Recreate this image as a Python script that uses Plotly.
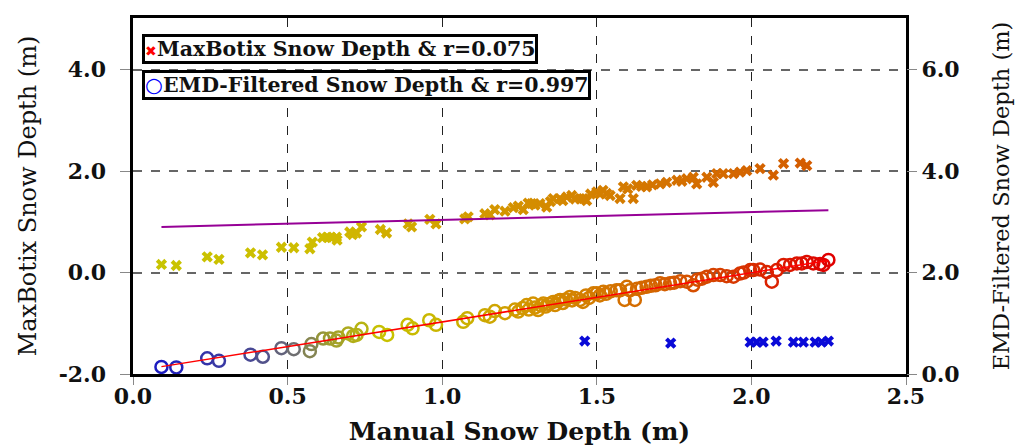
import plotly.graph_objects as go

# ---- data ----
emd_x = [0.092, 0.14, 0.24, 0.278, 0.38, 0.42, 0.48, 0.52, 0.572, 0.577, 0.615, 0.637, 0.658, 0.664,
         0.696, 0.712, 0.739, 0.723, 0.796, 0.822, 0.888, 0.904, 0.958, 0.98, 1.068, 1.081, 1.138,
         1.154, 1.17, 1.203, 1.235, 1.246, 1.26, 1.273, 1.28, 1.294, 1.30, 1.31, 1.32, 1.327, 1.335,
         1.345, 1.359, 1.365, 1.375, 1.381, 1.39, 1.40, 1.413, 1.42, 1.43, 1.446, 1.455, 1.465, 1.475,
         1.489, 1.50, 1.51, 1.521, 1.53, 1.545, 1.564, 1.575, 1.59, 1.597, 1.607, 1.623, 1.63, 1.645,
         1.661, 1.675, 1.69, 1.705, 1.72, 1.737, 1.75, 1.77, 1.791, 1.812, 1.825, 1.84, 1.856, 1.877,
         1.899, 1.92, 1.942, 1.963, 1.975, 1.996, 2.006, 2.028, 2.05, 2.066, 2.082, 2.104, 2.125,
         2.147, 2.163, 2.179, 2.2, 2.222, 2.233, 2.249]
emd_y = [0.14, 0.13, 0.31, 0.26, 0.38, 0.34, 0.51, 0.49, 0.45, 0.59, 0.70, 0.70, 0.66, 0.72,
         0.80, 0.75, 0.89, 0.77, 0.83, 0.77, 0.97, 0.90, 1.06, 0.97, 1.03, 1.10, 1.16,
         1.13, 1.24, 1.20, 1.27, 1.23, 1.30, 1.36, 1.27, 1.39, 1.31, 1.26, 1.35, 1.39, 1.33,
         1.38, 1.42, 1.36, 1.44, 1.46, 1.40, 1.47, 1.52, 1.45, 1.50, 1.46, 1.42, 1.55, 1.50,
         1.59, 1.59, 1.55, 1.62, 1.58, 1.63, 1.65, 1.65, 1.46, 1.72, 1.65, 1.46, 1.68, 1.70,
         1.72, 1.74, 1.75, 1.79, 1.77, 1.79, 1.80, 1.83, 1.82, 1.75, 1.86, 1.88, 1.92, 1.95,
         1.95, 1.93, 1.92, 1.98, 2.00, 2.05, 2.05, 2.06, 2.01, 1.82, 2.05, 2.15, 2.15,
         2.18, 2.18, 2.21, 2.18, 2.17, 2.15, 2.25]

mb_x = [0.092, 0.14, 0.24, 0.278, 0.38, 0.419, 0.48, 0.52, 0.572, 0.58, 0.613, 0.628, 0.642, 0.658,
        0.66, 0.701, 0.71, 0.723, 0.739, 0.80, 0.82, 0.89, 0.901, 0.96, 0.98, 1.073, 1.084, 1.138,
        1.154, 1.17, 1.203, 1.23, 1.246, 1.262, 1.278, 1.289, 1.30, 1.316, 1.338, 1.35, 1.359, 1.381,
        1.39, 1.403, 1.419, 1.43, 1.446, 1.456, 1.467, 1.48, 1.5, 1.51, 1.52, 1.532, 1.543, 1.575,
        1.586, 1.6, 1.618, 1.629, 1.645, 1.661, 1.68, 1.705, 1.726, 1.759, 1.775, 1.791, 1.812,
        1.823, 1.856, 1.877, 1.888, 1.909, 1.942, 1.963, 1.985, 2.028, 2.071, 2.104, 2.158, 2.179]
mb_y = [0.16, 0.14, 0.31, 0.26, 0.39, 0.35, 0.50, 0.49, 0.47, 0.60, 0.69, 0.70, 0.69, 0.70,
        0.64, 0.80, 0.75, 0.78, 0.90, 0.85, 0.78, 0.96, 0.90, 1.05, 0.96, 1.06, 1.10, 1.16,
        1.14, 1.24, 1.21, 1.28, 1.31, 1.24, 1.37, 1.36, 1.33, 1.36, 1.29, 1.40, 1.46, 1.46,
        1.42, 1.49, 1.52, 1.45, 1.46, 1.46, 1.42, 1.55, 1.59, 1.55, 1.62, 1.56, 1.52, 1.46,
        1.69, 1.65, 1.46, 1.72, 1.70, 1.69, 1.73, 1.75, 1.78, 1.82, 1.80, 1.85, 1.88,
        1.75, 1.88, 1.78, 1.95, 1.95, 1.95, 1.98, 2.01, 2.05, 1.92, 2.15, 2.16, 2.11]

mb_out_x = [1.461, 1.739, 1.996, 2.017, 2.038, 2.08, 2.136, 2.168, 2.206, 2.227, 2.249]
mb_out_y = [-1.35, -1.39, -1.37, -1.37, -1.37, -1.35, -1.37, -1.37, -1.37, -1.37, -1.35]

# linear fits (slope, intercept) and fit extent
mb_fit = (0.153, 0.886)
emd_fit = (0.971, 0.056)
fit_x = [0.092, 2.249]

x_ticks = [0.0, 0.5, 1.0, 1.5, 2.0, 2.5]
y_ticks = [-2.0, 0.0, 2.0, 4.0]
y2_ticks = [0.0, 2.0, 4.0, 6.0]

legend_labels = ["MaxBotix Snow Depth &amp; r=0.075", "EMD-Filtered Snow Depth &amp; r=0.997"]

# ---- styling ----
emd_scale = [[0.0, "#1c1cc0"], [0.14, "#4a4a92"], [0.2, "#707070"], [0.25, "#9c9c30"],
             [0.33, "#c8c200"], [0.47, "#ccae00"], [0.56, "#d49200"], [0.74, "#d46400"],
             [0.88, "#d83000"], [1.0, "#e00000"]]
mb_scale = [[0.0, "#c8c400"], [0.25, "#cfbc00"], [0.45, "#d4a000"], [0.6, "#d48a00"],
            [0.8, "#d47000"], [1.0, "#d45c00"]]

serif = "DejaVu Serif"
spacer = "<span style='font-size:15px;color:white'>0</span>"

fig = go.Figure()

fig.add_trace(go.Scatter(
    x=mb_x, y=mb_y, mode="markers", yaxis="y",
    marker=dict(symbol="x", size=10, color=mb_x, colorscale=mb_scale,
                cmin=min(mb_x), cmax=max(mb_x), line=dict(width=0)),
    showlegend=False))
fig.add_trace(go.Scatter(
    x=mb_out_x, y=mb_out_y, mode="markers", yaxis="y",
    marker=dict(symbol="x", size=10, color="#0a0ad8", line=dict(width=0)),
    showlegend=False))
fig.add_trace(go.Scatter(
    x=fit_x, y=[mb_fit[0] * v + mb_fit[1] for v in fit_x], mode="lines", yaxis="y",
    line=dict(color="#960096", width=2), showlegend=False))

fig.add_trace(go.Scatter(
    x=emd_x, y=emd_y, mode="markers", yaxis="y2",
    marker=dict(symbol="circle-open", size=12, color=emd_x, colorscale=emd_scale,
                cmin=min(emd_x), cmax=max(emd_x), line=dict(width=2.5)),
    showlegend=False))
fig.add_trace(go.Scatter(
    x=fit_x, y=[emd_fit[0] * v + emd_fit[1] for v in fit_x], mode="lines", yaxis="y2",
    line=dict(color="#ff0000", width=1.5), showlegend=False))

tickfont = dict(family=serif, size=22, color="#111")

fig.update_layout(
    width=1022, height=446,
    margin=dict(l=133, r=116, t=18, b=72),
    paper_bgcolor="white", plot_bgcolor="white",
    xaxis=dict(range=[0, 2.5], tickvals=x_ticks, ticktext=[f"<b>{v:.1f}</b>" for v in x_ticks],
               showgrid=True, gridcolor="#222", griddash="dash", gridwidth=1.2,
               showline=True, linecolor="black", linewidth=3, mirror=True,
               ticks="outside", ticklen=8, tickcolor="#888", zeroline=False,
               tickfont=tickfont, automargin=False, ticklabelstandoff=-7,
               title=dict(text="<b>Manual Snow Depth (m)</b>", font=dict(family=serif, size=25, color="#111"),
                          standoff=15)),
    yaxis=dict(range=[-2, 5.02], tickvals=y_ticks,
               ticktext=[f"<b>{v:.1f}</b>{spacer}" for v in y_ticks],
               showgrid=True, gridcolor="#666", griddash="dash", gridwidth=1.5,
               showline=True, linecolor="black", linewidth=3, mirror=True,
               ticks="outside", ticklen=10, tickcolor="#888", zeroline=False,
               tickfont=tickfont, automargin=False,
               title=dict(text="MaxBotix Snow Depth (m)", font=dict(family=serif, size=24, color="#111"),
                          standoff=16)),
    yaxis2=dict(range=[0, 7.02], tickvals=y2_ticks,
                ticktext=[f"<b>{v:.1f}</b>" for v in y2_ticks],
                overlaying="y", side="right", showgrid=False, zeroline=False,
                ticks="outside", ticklen=10, tickcolor="#888",
                tickfont=tickfont, automargin=False,
                title=dict(text="EMD-Filtered Snow Depth (m)", font=dict(family=serif, size=22.5, color="#111"),
                           standoff=34)),
    showlegend=False,
)

legend_syms = ["<span style='color:#ff0000;font-size:14px'>✖</span>",
               "<span style='color:#0000ff'>○</span>"]
legend_tops = [0.956, 0.855]
for sym, lab, top in zip(legend_syms, legend_labels, legend_tops):
    fig.add_annotation(
        xref="paper", yref="paper", x=0.011, y=top, xanchor="left", yanchor="top",
        text=f"{sym}<b>{lab}</b>", showarrow=False, align="left",
        font=dict(family=serif, size=20.5, color="#111"),
        bordercolor="black", borderwidth=3, borderpad=0, bgcolor="white")

fig.write_html("out.html")
